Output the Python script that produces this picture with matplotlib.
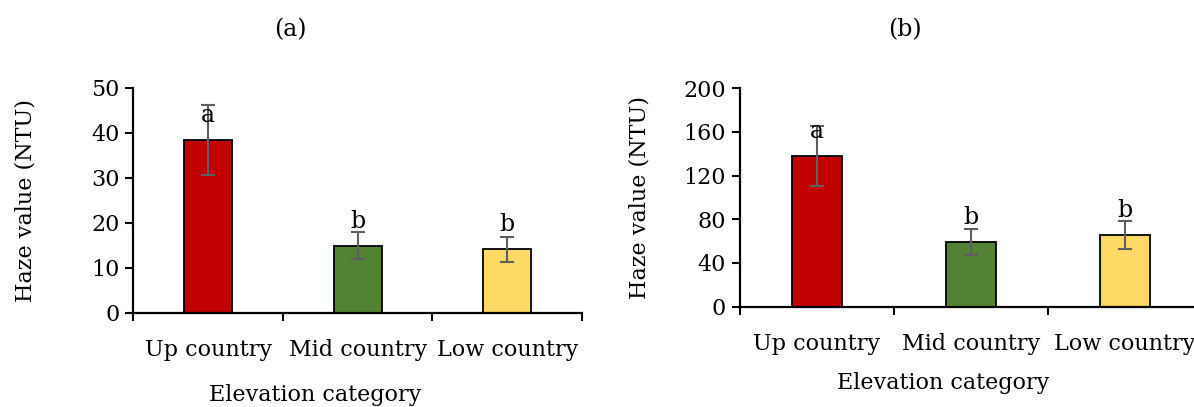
import matplotlib
matplotlib.use("Agg")
import matplotlib.pyplot as plt
import numpy as np

categories = ["Up country", "Mid country", "Low country"]
haze_a = [38.5, 14.9, 14.1]
err_a = [7.8, 3.0, 2.8]
haze_b = [137.8, 59.3, 65.5]
err_b = [27.5, 11.9, 13.0]
letters_a = ["a", "b", "b"]
letters_b = ["a", "b", "b"]
bar_colors = ["#C00000", "#548235", "#FFD966"]

plt.rcParams['font.family'] = ['DejaVu Serif']
FS = 16

W, H = 1194, 407
fig = plt.figure(figsize=(W / 100, H / 100), dpi=100)

def px_axes(x0, x1, y0, y1):
    return fig.add_axes([x0 / W, 1 - y1 / H, (x1 - x0) / W, (y1 - y0) / H])

ax1 = px_axes(133.3, 582, 88, 312.7)
ax2 = px_axes(740, 740 + 3 * 154, 88.3, 306.5)

def draw(ax, vals, errs, letters, ymax, ystep):
    x = np.arange(len(categories))
    ax.bar(x, vals, width=0.32, color=bar_colors, edgecolor="black", linewidth=1.3, zorder=2)
    ax.errorbar(x, vals, yerr=errs, fmt="none", ecolor="#5f5f5f", elinewidth=1.5,
                capsize=5, capthick=1.5, zorder=3)
    for xi, v, t in zip(x, vals, letters):
        ax.annotate(t, (xi, v), xytext=(0, 13), textcoords="offset points",
                    ha="center", va="baseline", fontsize=FS + 1, zorder=4)
    ax.set_xlim(-0.5, len(categories) - 0.5)
    ax.set_ylim(0, ymax)
    ax.set_yticks(np.arange(0, ymax + 1, ystep))
    ax.set_xticks(np.arange(-0.5, len(categories), 1.0))
    ax.set_xticklabels([])
    ax.set_xticks(x, minor=True)
    ax.set_xticklabels(categories, minor=True, fontsize=FS)
    ax.tick_params(axis="x", which="minor", length=0, pad=19)
    ax.tick_params(axis="x", which="major", length=6, width=1.5, direction="out")
    ax.tick_params(axis="y", length=6, width=1.5, direction="out", labelsize=FS, pad=4)
    for s in ["top", "right"]:
        ax.spines[s].set_visible(False)
    for s in ["left", "bottom"]:
        ax.spines[s].set_linewidth(1.6)
    ax.set_ylabel("Haze value (NTU)", fontsize=FS)
    ax.set_xlabel("Elevation category", fontsize=FS)

draw(ax1, haze_a, err_a, letters_a, 50, 10)
draw(ax2, haze_b, err_b, letters_b, 200, 40)

ax1.yaxis.set_label_coords(-108 / 448.7, 0.5)
ax1.yaxis.label.set_va("center")
ax1.xaxis.set_label_coords(0.405, -(395 - 312.7) / 224.7)
ax1.xaxis.label.set_va("center")
ax2.yaxis.set_label_coords(-100 / 462, 0.5)
ax2.yaxis.label.set_va("center")
ax2.xaxis.set_label_coords((943 - 740) / 462, -(383 - 306.5) / 218.2)
ax2.xaxis.label.set_va("center")

fig.text(290 / W, 1 - 30 / H, "(a)", ha="center", va="center", fontsize=FS + 1)
fig.text(905 / W, 1 - 30 / H, "(b)", ha="center", va="center", fontsize=FS + 1)

fig.savefig("out.png", dpi=100)
